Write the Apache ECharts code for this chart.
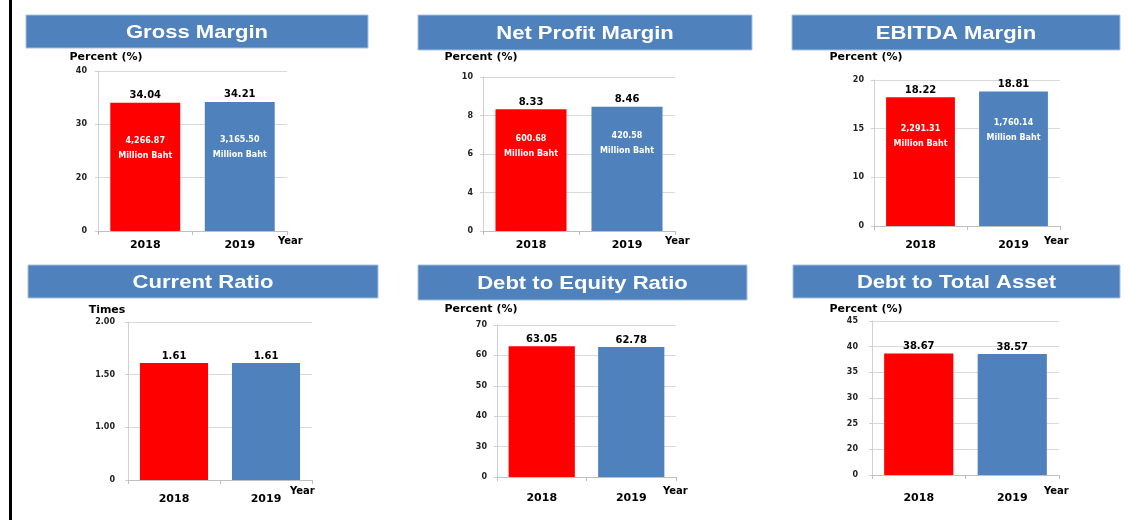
<!DOCTYPE html>
<html>
<head>
<meta charset="utf-8">
<title>Financial Ratios 2018-2019</title>
<script src="https://cdn.jsdelivr.net/npm/echarts@6.0.0/dist/echarts.min.js"></script>
<style>
    html, body { margin: 0; padding: 0; background: #ffffff; }
    #main { width: 1137px; height: 520px; }
</style>
</head>
<body>
<div id="main"></div>
<script>
// data
var years = ['2018', '2019'];

var grossMargin = [34.04, 34.21];
var grossMarginBaht = ['4,266.87', '3,165.50'];
var grossTicks = [0, 20, 30, 40];
var grossTickLabels = ['0', '20', '30', '40'];

var netProfit = [8.33, 8.46];
var netProfitBaht = ['600.68', '420.58'];
var netTicks = [0, 4, 6, 8, 10];
var netTickLabels = ['0', '4', '6', '8', '10'];

var ebitda = [18.22, 18.81];
var ebitdaBaht = ['2,291.31', '1,760.14'];
var ebitdaTicks = [0, 10, 15, 20];
var ebitdaTickLabels = ['0', '10', '15', '20'];

var currentRatio = [1.61, 1.61];
var currentTicks = [0, 1, 1.5, 2];
var currentTickLabels = ['0', '1.00', '1.50', '2.00'];

var debtEquity = [63.05, 62.78];
var equityTicks = [0, 30, 40, 50, 60, 70];
var equityTickLabels = ['0', '30', '40', '50', '60', '70'];

var debtAsset = [38.67, 38.57];
var assetTicks = [0, 20, 25, 30, 35, 40, 45];
var assetTickLabels = ['0', '20', '25', '30', '35', '40', '45'];

var barColors = ['#FF0000', '#4F81BD'];

// the y axes in the picture are broken below the first step,
// so values are mapped piecewise onto evenly spaced tick positions
function toAxis(v, ticks) {
    for (var i = 0; i < ticks.length - 1; i++) {
        if (v <= ticks[i + 1]) {
            return i + (v - ticks[i]) / (ticks[i + 1] - ticks[i]);
        }
    }
    return ticks.length - 1;
}

// panel layout (pixels)
var panels = [
    { title: 'Gross Margin', unit: 'Percent (%)', values: grossMargin, baht: grossMarginBaht, ticks: grossTicks, tickLabels: grossTickLabels,
      bar: [26, 15, 342, 33], grid: [98, 71, 189, 160], nameGap: 8, nameShift: 8, yearGap: -9, yearDown: 5, catMargin: 9, tickMargin: 11, bahtGap: 31 },
    { title: 'Net Profit Margin', unit: 'Percent (%)', values: netProfit, baht: netProfitBaht, ticks: netTicks, tickLabels: netTickLabels,
      bar: [418, 15, 334, 35], grid: [483, 77, 192, 154], nameGap: 14, nameShift: -2, yearGap: -10, yearDown: 5, catMargin: 9, tickMargin: 10, bahtGap: 22 },
    { title: 'EBITDA Margin', unit: 'Percent (%)', values: ebitda, baht: ebitdaBaht, ticks: ebitdaTicks, tickLabels: ebitdaTickLabels,
      bar: [792, 15, 328, 35], grid: [874, 80, 186, 146], nameGap: 17, nameShift: -8, yearGap: -16, yearDown: 10, catMargin: 14, tickMargin: 10, bahtGap: 24 },
    { title: 'Current Ratio', unit: 'Times', values: currentRatio, baht: null, ticks: currentTicks, tickLabels: currentTickLabels,
      bar: [28, 265, 350, 33], grid: [128, 322, 184, 158], nameGap: 6, nameShift: -21, yearGap: -22, yearDown: 6, catMargin: 14, tickMargin: 13 },
    { title: 'Debt to Equity Ratio', unit: 'Percent (%)', values: debtEquity, baht: null, ticks: equityTicks, tickLabels: equityTickLabels,
      bar: [418, 265, 329, 35], grid: [497, 325, 179, 152], nameGap: 10, nameShift: -16, yearGap: -13, yearDown: 9, catMargin: 16, tickMargin: 10 },
    { title: 'Debt to Total Asset', unit: 'Percent (%)', values: debtAsset, baht: null, ticks: assetTicks, tickLabels: assetTickLabels,
      bar: [793, 265, 327, 33], grid: [872, 321, 187, 154], nameGap: 6, nameShift: -6, yearGap: -15, yearDown: 11, catMargin: 18, tickMargin: 14 }
];

var font = 'DejaVu Sans';
var grids = [], xAxes = [], yAxes = [], series = [], graphics = [];

// black rule on the left edge
graphics.push({
    type: 'rect',
    shape: { x: 9, y: 0, width: 3, height: 520 },
    style: { fill: '#000000' },
    silent: true
});

panels.forEach(function(p, k) {
    // blue title bar
    graphics.push({
        type: 'rect',
        shape: { x: p.bar[0], y: p.bar[1], width: p.bar[2], height: p.bar[3] },
        style: { fill: '#4F81BD', stroke: '#A9C0DE', lineWidth: 1 },
        silent: true
    });
    graphics.push({
        type: 'text',
        x: p.bar[0] + p.bar[2] / 2,
        y: p.bar[1] + p.bar[3] / 2 + 1,
        scaleX: 1.16,
        style: {
            text: p.title,
            fill: '#ffffff',
            font: 'bold 19px "Liberation Sans", Arial, sans-serif',
            textAlign: 'center',
            textVerticalAlign: 'middle'
        },
        silent: true
    });

    grids.push({ left: p.grid[0], top: p.grid[1], width: p.grid[2], height: p.grid[3], containLabel: false });

    xAxes.push({
        type: 'category',
        gridIndex: k,
        data: years,
        name: 'Year',
        nameLocation: 'end',
        nameGap: p.yearGap,
        nameTextStyle: {
            color: '#000000',
            fontFamily: font,
            fontWeight: 'bold',
            fontSize: 10,
            verticalAlign: 'top',
            padding: [p.yearDown, 0, 0, 0]
        },
        axisLine: { lineStyle: { color: '#BFBFBF', width: 1 } },
        axisTick: { show: true, length: 4, lineStyle: { color: '#BFBFBF' } },
        axisLabel: {
            color: '#000000',
            fontFamily: font,
            fontWeight: 'bold',
            fontSize: 11,
            margin: p.catMargin
        }
    });

    var pad = p.nameShift > 0 ? [0, 0, 0, 2 * p.nameShift] : [0, -2 * p.nameShift, 0, 0];
    yAxes.push({
        type: 'value',
        gridIndex: k,
        min: 0,
        max: p.ticks.length - 1,
        interval: 1,
        name: p.unit,
        nameLocation: 'end',
        nameGap: p.nameGap,
        nameTextStyle: {
            color: '#000000',
            fontFamily: font,
            fontWeight: 'bold',
            fontSize: 11,
            align: 'center',
            padding: pad
        },
        axisLine: { show: true, lineStyle: { color: '#D0D0D0', width: 1 } },
        axisTick: { show: true, length: 3, lineStyle: { color: '#D0D0D0' } },
        splitLine: { show: true, lineStyle: { color: '#D9D9D9', width: 1 } },
        axisLabel: {
            color: '#222222',
            fontFamily: font,
            fontWeight: 'bold',
            fontSize: 8,
            margin: p.tickMargin,
            formatter: (function(labels) {
                return function(val) { return labels[Math.round(val)]; };
            })(p.tickLabels)
        }
    });

    var raw = p.values;
    series.push({
        type: 'bar',
        xAxisIndex: k,
        yAxisIndex: k,
        barCategoryGap: '26%',
        data: raw.map(function(v, i) {
            return { value: toAxis(v, p.ticks), itemStyle: { color: barColors[i] } };
        }),
        label: {
            show: true,
            position: 'top',
            distance: 2,
            color: '#000000',
            fontFamily: font,
            fontWeight: 'bold',
            fontSize: 10,
            formatter: function(params) { return raw[params.dataIndex].toFixed(2); }
        }
    });

    // amount in million baht written inside the bar
    if (p.baht) {
        var baht = p.baht;
        series.push({
            type: 'bar',
            xAxisIndex: k,
            yAxisIndex: k,
            barCategoryGap: '26%',
            barGap: '-100%',
            silent: true,
            z: 3,
            data: raw.map(function(v) { return toAxis(v, p.ticks); }),
            itemStyle: { color: 'rgba(0,0,0,0)' },
            label: {
                show: true,
                position: 'insideTop',
                distance: p.bahtGap,
                color: '#ffffff',
                fontFamily: font,
                fontWeight: 'bold',
                fontSize: 8,
                lineHeight: 15,
                formatter: function(params) { return baht[params.dataIndex] + '\nMillion Baht'; }
            }
        });
    }
});

var myChart = echarts.init(document.getElementById('main'), null, { renderer: 'canvas' });
myChart.setOption({
    animation: false,
    backgroundColor: '#ffffff',
    grid: grids,
    xAxis: xAxes,
    yAxis: yAxes,
    series: series,
    graphic: graphics
});
</script>
</body>
</html>
